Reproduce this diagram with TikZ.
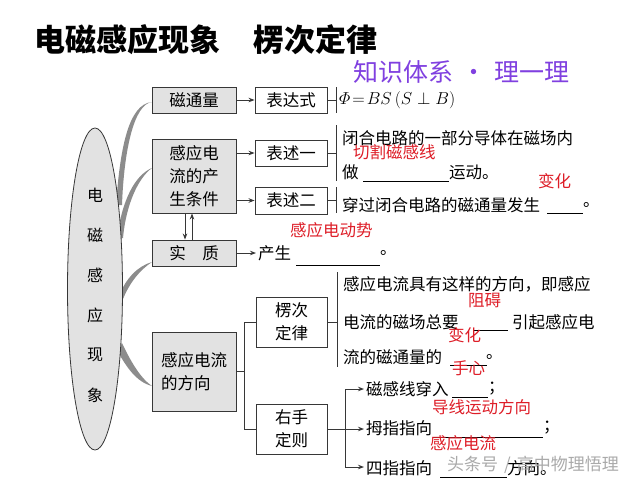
\documentclass[tikz,border=0pt]{standalone}
\usepackage{amsmath}
\usepackage{fontspec}
\setmainfont{Noto Sans CJK SC}
\usetikzlibrary{shapes.geometric,arrows.meta,calc}
\definecolor{redlab}{RGB}{222,30,40}
\definecolor{purp}{RGB}{128,64,224}
\definecolor{boxgray}{RGB}{226,226,226}
\definecolor{linegray}{RGB}{55,55,55}
\definecolor{curvegray}{RGB}{140,140,140}
\definecolor{wmgray}{RGB}{170,170,170}
\newcommand\fsz[1]{\fontsize{#1}{23}\selectfont}
\begin{document}
\begin{tikzpicture}[x=1pt,y=-1pt,
 gbox/.style={draw=linegray, fill=boxgray, line width=0.9pt, inner sep=0pt, align=center, font=\fsz{16.5}},
 wbox/.style={draw=linegray, fill=white, line width=0.9pt, inner sep=0pt, align=center, font=\fsz{16.5}},
 txt/.style={anchor=west, inner sep=0pt, font=\fsz{16.5}},
 redt/.style={anchor=west, inner sep=0pt, font=\fsz{16.5}, text=redlab},
 conn/.style={draw=linegray, line width=0.9pt},
 arr/.style={conn, -{Stealth[length=6pt,width=4.5pt]}},
 blank/.style={draw=black, line width=0.7pt},
 taper/.style={fill=curvegray, draw=none},
]
\useasboundingbox[fill=white] (0,0) rectangle (640,480);

% title
\node[anchor=west, inner sep=0pt, font=\fontsize{31}{36}\selectfont\bfseries] (title) at (34,40) {电磁感应现象\hspace{33pt}楞次定律};
\node[anchor=west, inner sep=0pt, font=\fontsize{25}{30}\selectfont, text=purp] (sub) at (353,72) {知识体系\makebox[41pt]{·}理一理};

% tapered curves
\fill[taper] (152,102) .. controls (128,104) and (120,150) .. (116,205) -- (122,205) .. controls (124,150) and (134,104) .. (152,102) -- cycle;
\fill[taper] (152,168) .. controls (135,175) and (122,200) .. (117,238) -- (123,238) .. controls (126,205) and (138,178) .. (152,168) -- cycle;
\fill[taper] (152,262) .. controls (138,266) and (126,278) .. (119,296) -- (123,299) .. controls (130,282) and (140,270) .. (152,262) -- cycle;
\fill[taper] (152,386) .. controls (136,382) and (126,366) .. (118,352) -- (122,343) .. controls (130,360) and (140,378) .. (152,386) -- cycle;

% ellipse
\node[ellipse, draw=linegray, fill=boxgray, line width=0.8pt, minimum width=55, minimum height=322, inner sep=0pt] (ell) at (95,289) {};
\foreach \c [count=\i] in {电,磁,感,应,现,象}
  \node[inner sep=0pt, font=\fsz{16}] (e\i) at (95,155+40*\i) {\c};

% left boxes
\node[gbox, minimum width=84, minimum height=26] (n1) at (194,100) {磁通量};
\node[gbox, minimum width=84, minimum height=74] (n2) at (194,176) {感应电\\流的产\\生条件};
\node[gbox, minimum width=84, minimum height=26] (n3) at (194,253) {实\hspace{1em}质};
\node[gbox, minimum width=84, minimum height=79, align=left] (n4) at (194,371.5) {感应电流\\的方向};

% middle boxes
\node[wbox, minimum width=72, minimum height=26] (m1) at (291,100) {表达式};
\node[wbox, minimum width=72, minimum height=26] (m2) at (291,153) {表述一};
\node[wbox, minimum width=72, minimum height=27] (m3) at (291,200.5) {表述二};
\node[wbox, minimum width=71, minimum height=50] (m4) at (291.5,322) {楞次\\定律};
\node[wbox, minimum width=71, minimum height=50] (m5) at (291.5,429) {右手\\定则};

% arrows left -> middle
\draw[arr] (n1.east) -- (m1.west);
\draw[arr] (n2.east |- m2.west) -- (m2.west);
\draw[arr] (n2.east |- m3.west) -- (m3.west);
\draw[arr] ([xshift=-9pt]n2.south) -- ([xshift=-9pt]n3.north);
\draw[arr] ([xshift=-2pt]n3.north) -- ([xshift=-2pt]n2.south);

% n4 branch
\coordinate (j4) at (244,371.5);
\draw[conn] (n4.east) -- (j4);
\draw[conn] (m4.west) -- (m4.west -| j4) -- (m5.west -| j4) -- (m5.west);

% brackets
\coordinate (b1t) at (336,87); \coordinate (b1b) at (336,113);
\coordinate (b2t) at (336,125); \coordinate (b2b) at (336,181);
\coordinate (b3t) at (336,187); \coordinate (b3b) at (336,213);
\coordinate (b4t) at (337,272); \coordinate (b4b) at (337,367);
\draw[conn] (b1t) -- (b1b); \draw[conn] (m1.east) -- (m1.east -| b1t);
\draw[conn] (b2t) -- (b2b); \draw[conn] (m2.east) -- (m2.east -| b2t);
\draw[conn] (b3t) -- (b3b); \draw[conn] (m3.east) -- (m3.east -| b3t);
\draw[conn] (b4t) -- (b4b); \draw[conn] (m4.east) -- (m4.east -| b4t);

% right-hand rule branches
\coordinate (r1) at (345,389); \coordinate (r3) at (345,467);
\node[txt] (t8) at (366,389) {磁感线穿入};
\node[txt] (t9) at (366,428) {拇指指向};
\node[txt] (t10) at (366,468) {四指指向};
\draw[conn] (m5.east) -- (m5.east -| r1);
\draw[conn] (r1) -- (r3);
\draw[arr] (r1) -- ([xshift=-2pt]t8.west);
\draw[arr] (m5.east -| r1) -- ([xshift=-2pt]t9.west |- m5.east);
\draw[arr] (r3) -- ([xshift=-2pt]t10.west |- r3);

% texts
\node[anchor=west, inner sep=0pt, font=\fsz{16}] (t0) at (339,100) {$\varPhi\!=\!BS\,(S\perp B)$};
\node[txt] (t1) at (342,138) {闭合电路的一部分导体在磁场内};
\node[txt] (t2a) at (342,172) {做};
\node[txt] (t2b) at (449,172) {运动。};
\draw[blank] (363,181) -- (449,181);
\node[txt] (t3) at (342,205) {穿过闭合电路的磁通量发生};
\draw[blank] (547,213) -- (583,213);
\node[txt] (t3b) at (583,205) {。};
\draw[arr] (n3.east) -- (256,253);
\node[txt] (t4) at (258,253) {产生};
\draw[blank] (296,265) -- (380,265);
\node[txt] (t4b) at (380,253) {。};
\node[txt] (t5) at (343,284) {感应电流具有这样的方向，即感应};
\node[txt] (t6) at (343,322) {电流的磁场总要};
\draw[blank] (473,330) -- (508,330);
\node[txt] (t6b) at (512,322) {引起感应电};
\node[txt] (t7) at (343,357) {流的磁通量的};
\draw[blank] (450,365) -- (487,365);
\node[txt] (t7b) at (486,357) {。};
\draw[blank] (452,397) -- (488,397);
\node[txt] (t8b) at (488,389) {；};
\draw[blank] (433,437) -- (543,437);
\node[txt] (t9b) at (543,428) {；};
\draw[blank] (440,477) -- (507,477);
\node[txt] (t10b) at (507,468) {方向。};

% red answers
\node[redt] (a1) at (353,152) {切割磁感线};
\node[redt] (a2) at (538,181) {变化};
\node[redt] (a3) at (290,230) {感应电动势};
\node[redt] (a4) at (468,300) {阻碍};
\node[redt] (a5) at (448,335) {变化};
\node[redt] (a6) at (452,368) {手心};
\node[redt] (a7) at (432,407) {导线运动方向};
\node[redt] (a8) at (430,443) {感应电流};

% watermark
\node[anchor=west, inner sep=0pt, font=\fsz{17}, text=wmgray] (wm) at (447,465) {头条号\hspace{6pt}/\hspace{6pt}高中物理悟理};
\end{tikzpicture}
\end{document}
